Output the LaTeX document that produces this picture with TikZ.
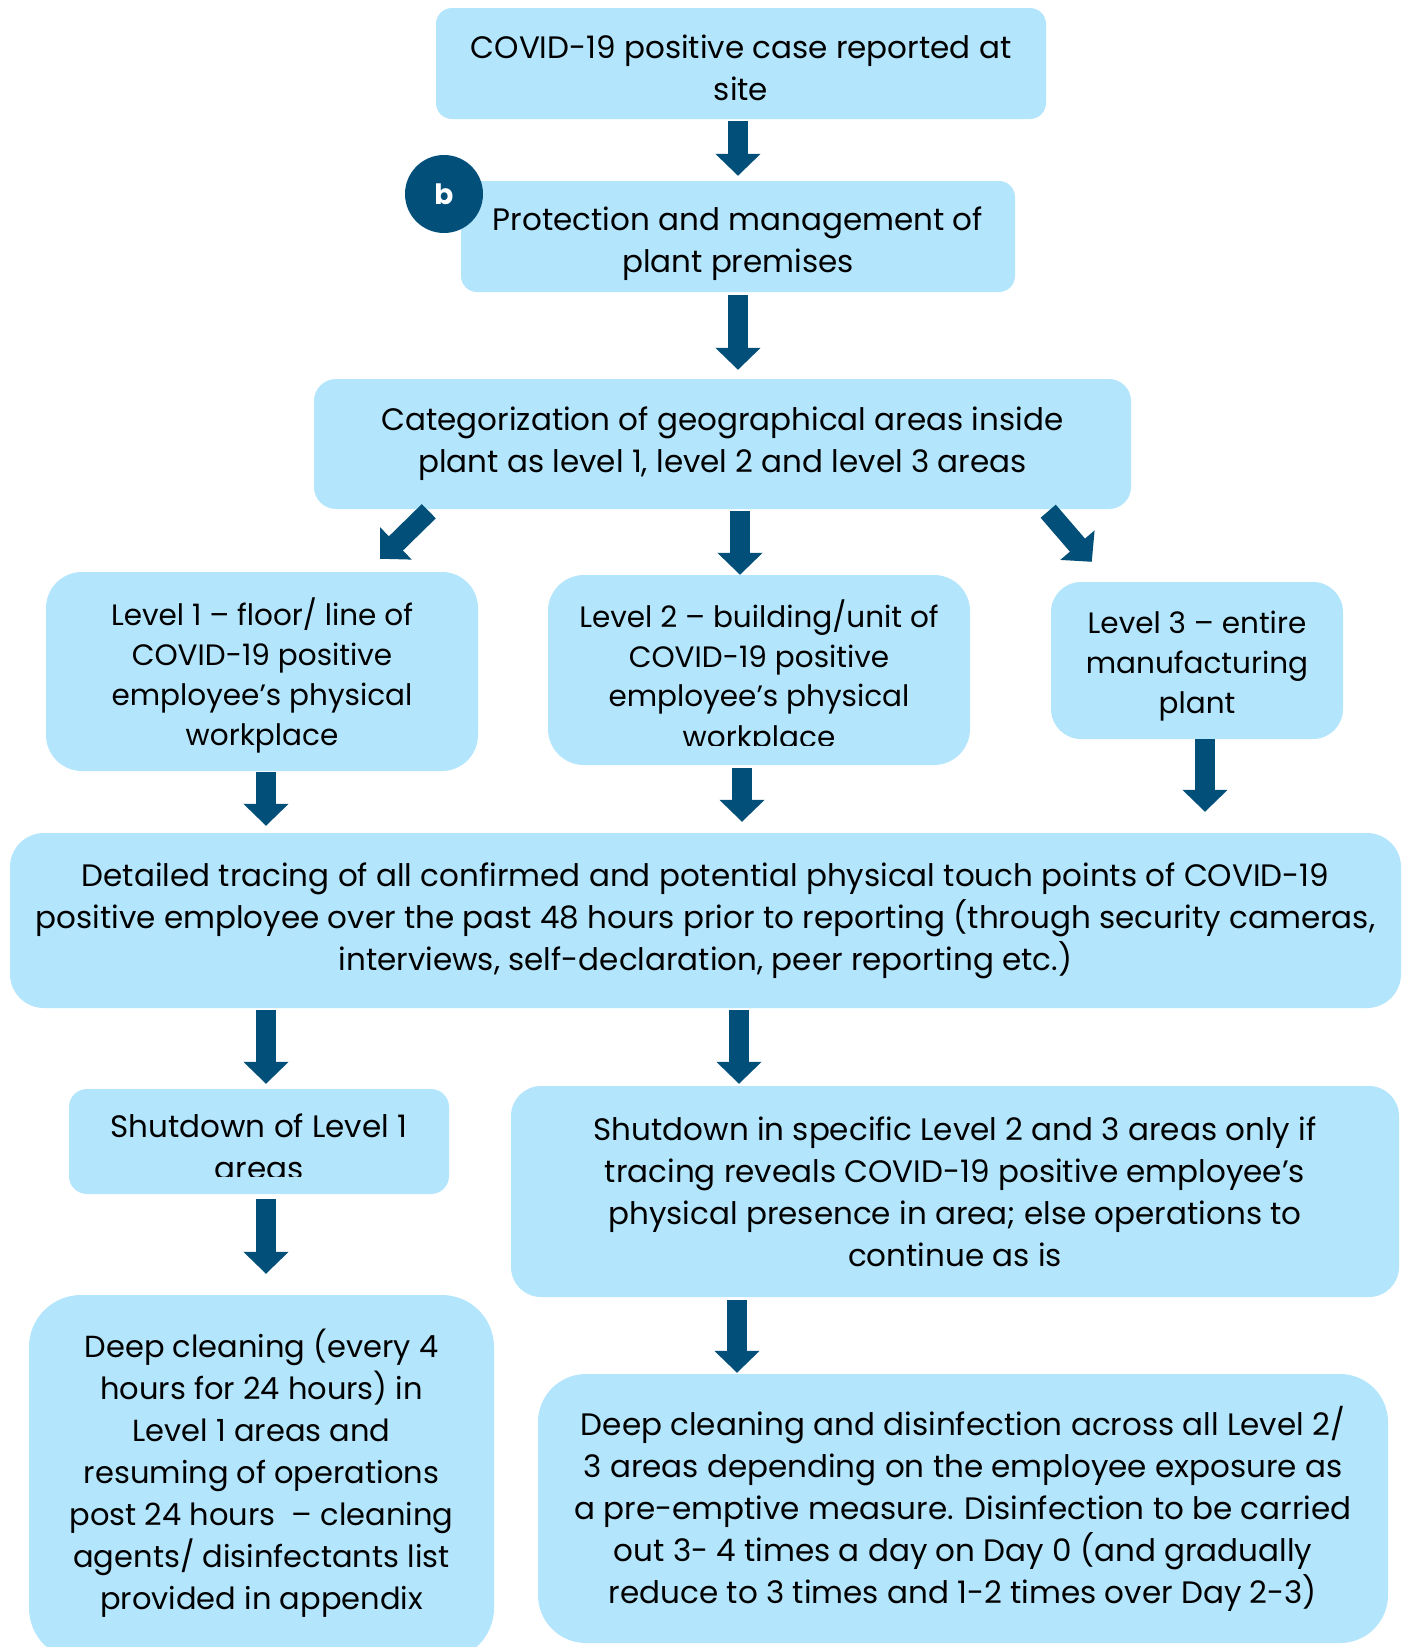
\documentclass[tikz,border=0pt]{standalone}
\usepackage{fontspec}
\setmainfont{Poppins}
\usetikzlibrary{arrows.meta,calc}
\definecolor{boxblue}{HTML}{B3E5FC}
\definecolor{deepblue}{HTML}{02507A}
\begin{document}
\begin{tikzpicture}[x=1pt,y=-1pt,
  box/.style={fill=boxblue, draw=none, rounded corners=#1, align=center,
    inner sep=0pt, text=black, font=\fontsize{31}{42}\selectfont},
  levelbox/.style={box=#1, font=\fontsize{29.5}{40}\selectfont},
  bigarrow/.style={draw=deepblue, line width=20pt,
    -{Triangle[width=44pt,length=22pt]}}]
\useasboundingbox (0,0) rectangle (1407,1647);

% process boxes
\node[box=16pt, minimum width=610pt, minimum height=111pt] (top) at (741,63.5) {};
\node (toptext) at ([yshift=-4pt]top.center) [align=center, inner sep=0pt,
  font=\fontsize{31}{42}\selectfont] {COVID-19 positive case reported at\\site};
\node[box=16pt, minimum width=554pt, minimum height=111pt] (prot) at (738,236.5) {};
\node (prottext) at ([yshift=-7pt]prot.center) [align=center, inner sep=0pt,
  font=\fontsize{31}{42}\selectfont] {Protection and management of\\plant premises};
\node[box=22pt, minimum width=817pt, minimum height=130pt] (cat) at (722.5,444)
  {Categorization of geographical areas inside\\plant as level 1, level 2 and level 3 areas};
\node[levelbox=36pt, minimum width=432pt, minimum height=199pt] (lone) at (262,671.5) {};
\node (lonetext) at ([yshift=-4pt]lone.center) [align=center, inner sep=0pt,
  font=\fontsize{29.5}{40}\selectfont]
  {Level 1 -- floor/ line of\\COVID-19 positive\\employee’s physical\\workplace};
\node[levelbox=36pt, minimum width=422pt, minimum height=190pt] (ltwo) at (759,670) {};
\begin{scope}
  \clip (548,575) rectangle (970,745);
  \node[levelbox=0pt, fill=none, anchor=north] (ltwotext) at (759,599)
    {Level 2 -- building/unit of\\COVID-19 positive\\employee’s physical\\workplace};
\end{scope}
\node[levelbox=30pt, minimum width=292pt, minimum height=157pt] (lthree) at (1197,660.5) {};
\node (lthreetext) at ([yshift=-6pt]lthree.center) [align=center, inner sep=0pt,
  font=\fontsize{29.5}{40}\selectfont] {Level 3 -- entire\\manufacturing\\plant};
\node[box=34pt, minimum width=1391pt, minimum height=175pt] (trace) at (705.5,920.5)
  {Detailed tracing of all confirmed and potential physical touch points of COVID-19\\
   positive employee over the past 48 hours prior to reporting (through security cameras,\\
   interviews, self-declaration, peer reporting etc.)};
\node[box=18pt, minimum width=380pt, minimum height=105pt] (shutone) at (259,1141.5) {};
\begin{scope}
  \clip (69,1089) rectangle (449,1176);
  \node[box=0pt, fill=none, anchor=north] (shutonetext) at (259,1114)
    {Shutdown of Level 1\\areas};
\end{scope}
\node[box=30pt, minimum width=888pt, minimum height=211pt] (shuttwo) at (955,1191.5)
  {Shutdown in specific Level 2 and 3 areas only if\\tracing reveals COVID-19 positive employee’s\\physical presence in area; else operations to\\continue as is};
\node[box=52pt, minimum width=465pt, minimum height=365pt] (cleanone) at (261.5,1477.5) {};
\node (cleanonetext) at ([yshift=4pt]cleanone.center) [align=center, inner sep=0pt,
  font=\fontsize{30.5}{42}\selectfont]
  {Deep cleaning (every 4\\hours for 24 hours) in\\Level 1 areas and\\resuming of operations\\post 24 hours~ -- cleaning\\agents/ disinfectants list\\provided in appendix};
\node[box=48pt, minimum width=850pt, minimum height=269pt] (cleantwo) at (963,1508.5)
  {Deep cleaning and disinfection across all Level 2/\\3 areas depending on the employee exposure as\\a pre-emptive measure. Disinfection to be carried\\out 3- 4 times a day on Day 0 (and gradually\\reduce to 3 times and 1-2 times over Day 2-3)};

% section badge
\node[circle, fill=deepblue, minimum size=78pt, inner sep=0pt, text=white,
  font=\fontsize{28}{30}\bfseries\selectfont] (badge) at (444,194) {b};

% arrow columns
\coordinate (xa) at (738,0);
\coordinate (xl) at (266,0);
\coordinate (xm) at (742,0);
\coordinate (xr) at (1205,0);
\coordinate (xs) at (739,0);
\coordinate (xt) at (737,0);
\coordinate (xc) at (740,0);

\draw[bigarrow, shorten <=2pt, shorten >=5pt] (top.south -| xa) -- (prot.north -| xa);
\draw[bigarrow, shorten <=3pt, shorten >=9pt] (prot.south -| xa) -- (cat.north -| xa);

% fan-out from the categorization box
\coordinate (dl0) at ($(cat.south west)+(115,2)$);
\coordinate (dl1) at ($(lone.north east)+(-98,-13)$);
\coordinate (dr0) at ($(cat.south east)+(-83,2)$);
\coordinate (dr1) at ($(lthree.north west)+(41,-20)$);
\draw[bigarrow] (dl0) -- (dl1);
\draw[bigarrow, shorten <=2pt] (cat.south -| xc) -- (ltwo.north -| xc);
\draw[bigarrow] (dr0) -- (dr1);

\draw[bigarrow, shorten <=1pt, shorten >=7pt] (lone.south -| xl) -- (trace.north -| xl);
\draw[bigarrow, shorten <=3pt, shorten >=11pt] (ltwo.south -| xm) -- (trace.north -| xm);
\draw[bigarrow, shorten >=21pt] (lthree.south -| xr) -- (trace.north -| xr);

\draw[bigarrow, shorten <=2pt, shorten >=5pt] (trace.south -| xl) -- (shutone.north -| xl);
\draw[bigarrow, shorten <=2pt, shorten >=2pt] (trace.south -| xs) -- (shuttwo.north -| xs);
\draw[bigarrow, shorten <=5pt, shorten >=21pt] (shutone.south -| xl) -- (cleanone.north -| xl);
\draw[bigarrow, shorten <=3pt, shorten >=1pt] (shuttwo.south -| xt) -- (cleantwo.north -| xt);
\end{tikzpicture}
\end{document}
